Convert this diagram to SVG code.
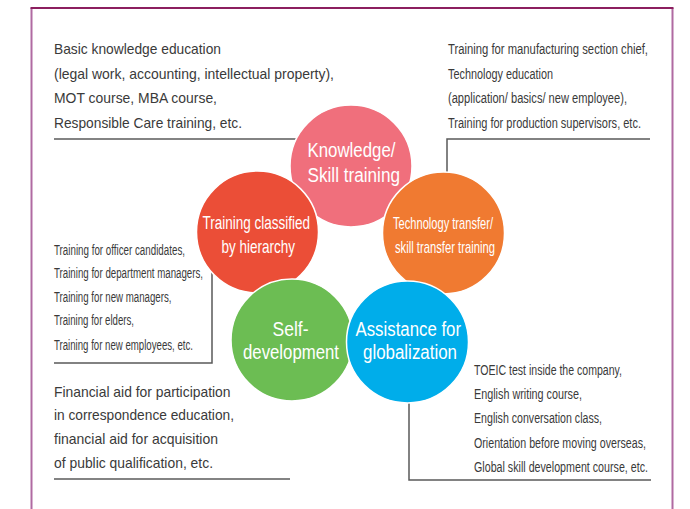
<svg xmlns="http://www.w3.org/2000/svg" width="690" height="509" viewBox="0 0 690 509">
  <style>
    .frame-side { fill: none; stroke: #b06aa2; stroke-width: 2; }
    .frame-top { fill: none; stroke: #8c1f5f; stroke-width: 2; }
    .lead { fill: none; stroke: #5a5a5a; stroke-width: 1.5; }
    .node { stroke: #ffffff; stroke-width: 1.5; }
    .label { fill: #ffffff; font-family: "Liberation Sans", Arial, sans-serif; }
    .note { fill: #3a3a3a; font-family: "Liberation Sans", Arial, sans-serif; }
    .note-l { font-size: 15px; }
    .note-s { font-size: 14px; }
  </style>
  <rect width="690" height="509" fill="#ffffff"/>

  <!-- outer frame (open at the bottom) -->
  <path class="frame-side" d="M31.5,515 V8 M672.5,8 V515"/>
  <path class="frame-top" d="M30.5,8 H673.5"/>

  <!-- leader lines from each circle to its note -->
  <g id="connectors">
    <path class="lead" d="M54,139 H300"/>
    <path class="lead" d="M650,139 H447 V180"/>
    <path class="lead" d="M54,363 H212 V265"/>
    <path class="lead" d="M54,479 H290"/>
    <path class="lead" d="M409,390 V480 H651"/>
  </g>

  <!-- circles -->
  <g id="knowledge">
    <circle class="node" cx="351" cy="166" r="61" fill="#f06f7c"/>
    <text class="label" font-size="20" x="307.5" y="157" textLength="88" lengthAdjust="spacingAndGlyphs">Knowledge/</text>
    <text class="label" font-size="20" x="307.5" y="182" textLength="92.5" lengthAdjust="spacingAndGlyphs">Skill training</text>
  </g>
  <g id="technology">
    <circle class="node" cx="443.5" cy="233" r="61" fill="#f07a31"/>
    <text class="label" font-size="17" x="393" y="229" textLength="100" lengthAdjust="spacingAndGlyphs">Technology transfer/</text>
    <text class="label" font-size="17" x="395" y="253" textLength="100" lengthAdjust="spacingAndGlyphs">skill transfer training</text>
  </g>
  <g id="hierarchy">
    <circle class="node" cx="257.5" cy="232" r="61" fill="#eb4e37"/>
    <text class="label" font-size="19" x="202.5" y="229" textLength="107.5" lengthAdjust="spacingAndGlyphs">Training classified</text>
    <text class="label" font-size="19" x="221.5" y="253" textLength="73.5" lengthAdjust="spacingAndGlyphs">by hierarchy</text>
  </g>
  <g id="self-development">
    <circle class="node" cx="292" cy="340" r="61" fill="#6cbd53"/>
    <text class="label" font-size="20" x="272.5" y="336" textLength="36" lengthAdjust="spacingAndGlyphs">Self-</text>
    <text class="label" font-size="20" x="243" y="359" textLength="96" lengthAdjust="spacingAndGlyphs">development</text>
  </g>
  <g id="globalization">
    <circle class="node" cx="407.5" cy="342" r="61" fill="#00adea"/>
    <text class="label" font-size="20" x="355.5" y="336" textLength="105.5" lengthAdjust="spacingAndGlyphs">Assistance for</text>
    <text class="label" font-size="20" x="363" y="359" textLength="94" lengthAdjust="spacingAndGlyphs">globalization</text>
  </g>

  <!-- notes -->
  <g id="note-knowledge" class="note note-l">
    <text x="54" y="54" textLength="167" lengthAdjust="spacingAndGlyphs">Basic knowledge education</text>
    <text x="54" y="79" textLength="280" lengthAdjust="spacingAndGlyphs">(legal work, accounting, intellectual property),</text>
    <text x="54" y="103" textLength="163" lengthAdjust="spacingAndGlyphs">MOT course, MBA course,</text>
    <text x="54" y="128" textLength="188" lengthAdjust="spacingAndGlyphs">Responsible Care training, etc.</text>
  </g>
  <g id="note-technology" class="note note-s">
    <text x="448" y="54" textLength="200" lengthAdjust="spacingAndGlyphs">Training for manufacturing section chief,</text>
    <text x="448" y="79" textLength="105" lengthAdjust="spacingAndGlyphs">Technology education</text>
    <text x="448" y="103" textLength="179" lengthAdjust="spacingAndGlyphs">(application/ basics/ new employee),</text>
    <text x="448" y="128" textLength="193" lengthAdjust="spacingAndGlyphs">Training for production supervisors, etc.</text>
  </g>
  <g id="note-hierarchy" class="note note-s">
    <text x="54" y="255" textLength="131" lengthAdjust="spacingAndGlyphs">Training for officer candidates,</text>
    <text x="54" y="278" textLength="149" lengthAdjust="spacingAndGlyphs">Training for department managers,</text>
    <text x="54" y="302" textLength="117.5" lengthAdjust="spacingAndGlyphs">Training for new managers,</text>
    <text x="54" y="325" textLength="80" lengthAdjust="spacingAndGlyphs">Training for elders,</text>
    <text x="54" y="350" textLength="139" lengthAdjust="spacingAndGlyphs">Training for new employees, etc.</text>
  </g>
  <g id="note-self-development" class="note note-l">
    <text x="54" y="397" textLength="176.5" lengthAdjust="spacingAndGlyphs">Financial aid for participation</text>
    <text x="54" y="420" textLength="180" lengthAdjust="spacingAndGlyphs">in correspondence education,</text>
    <text x="54" y="444" textLength="164" lengthAdjust="spacingAndGlyphs">financial aid for acquisition</text>
    <text x="54" y="468" textLength="159" lengthAdjust="spacingAndGlyphs">of public qualification, etc.</text>
  </g>
  <g id="note-globalization" class="note note-s">
    <text x="474" y="375" textLength="148" lengthAdjust="spacingAndGlyphs">TOEIC test inside the company,</text>
    <text x="474" y="399" textLength="108" lengthAdjust="spacingAndGlyphs">English writing course,</text>
    <text x="474" y="423" textLength="128" lengthAdjust="spacingAndGlyphs">English conversation class,</text>
    <text x="474" y="448" textLength="172" lengthAdjust="spacingAndGlyphs">Orientation before moving overseas,</text>
    <text x="474" y="472" textLength="174" lengthAdjust="spacingAndGlyphs">Global skill development course, etc.</text>
  </g>
</svg>
